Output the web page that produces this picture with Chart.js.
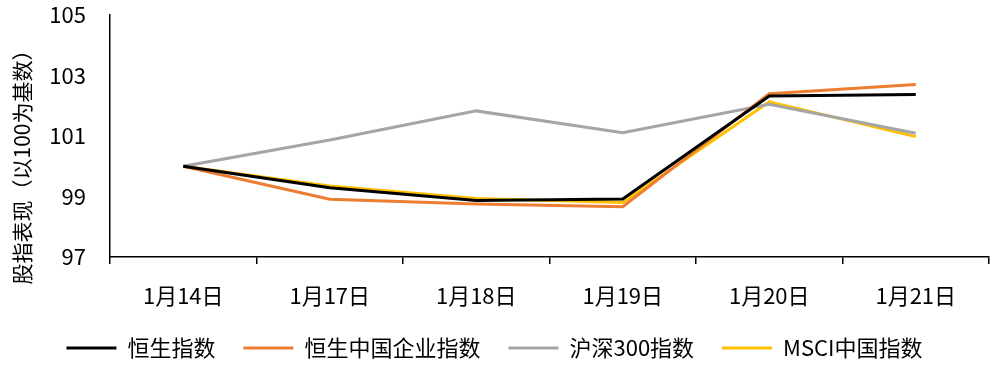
<!DOCTYPE html>
<html>
<head>
<meta charset="utf-8">
<script src="https://cdn.jsdelivr.net/npm/chart.js@4"></script>
<style>
html,body{margin:0;padding:0;background:#fff;}
#wrap{width:999px;height:369px;}
</style>
</head>
<body>
<div id="wrap"><canvas id="c" width="999" height="369"></canvas></div>
<script>
const categories = ['1月14日','1月17日','1月18日','1月19日','1月20日','1月21日'];
const hsi   = [100, 99.29, 98.87, 98.92, 102.32, 102.37];
const hscei = [100, 98.91, 98.75, 98.66, 102.40, 102.70];
const csi300= [100, 100.87, 101.83, 101.11, 102.05, 101.09];
const msci  = [100, 99.35, 98.93, 98.80, 102.13, 100.98];
const seriesNames = ['恒生指数','恒生中国企业指数','沪深300指数','MSCI中国指数'];
const yTicks = [97, 99, 101, 103, 105];
const yTitle = '股指表现（以100为基数）';

const FONT = '"Noto Sans CJK SC", "Microsoft YaHei", sans-serif';

const titlePlugin = {
  id: 'ytitle',
  afterDraw(chart) {
    const ctx = chart.ctx;
    const area = chart.chartArea;
    ctx.save();
    ctx.translate(22, (area.top + area.bottom) / 2 + 26);
    ctx.rotate(-Math.PI / 2);
    ctx.font = '21px ' + FONT;
    ctx.fillStyle = '#000';
    ctx.textAlign = 'center';
    ctx.textBaseline = 'middle';
    ctx.fillText(yTitle, 0, 0);
    ctx.restore();
  }
};

function ds(label, data, color) {
  return {label, data, borderColor: color, backgroundColor: color, borderWidth: 3,
          pointRadius: 0, pointHoverRadius: 0, tension: 0, fill: false};
}

new Chart(document.getElementById('c'), {
  type: 'line',
  data: {
    labels: categories,
    datasets: [
      ds(seriesNames[0], hsi, '#000000'),
      ds(seriesNames[1], hscei, '#ED7D31'),
      ds(seriesNames[2], csi300, '#A5A5A5'),
      ds(seriesNames[3], msci, '#FFC000')
    ]
  },
  options: {
    responsive: false,
    animation: false,
    devicePixelRatio: 1,
    layout: {padding: {left: 0, right: 10, top: 15, bottom: 0}},
    plugins: {
      tooltip: {enabled: false},
      legend: {
        position: 'bottom',
        labels: {
          usePointStyle: true,
          pointStyle: 'line',
          pointStyleWidth: 50,
          boxHeight: 22,
          padding: 28,
          color: '#000',
          font: {family: FONT, size: 22}
        }
      }
    },
    scales: {
      x: {
        offset: true,
        afterFit(s) { s.height = 52; },
        border: {display: true, color: '#000', width: 1.5},
        grid: {offset: true, drawOnChartArea: false, drawTicks: true, tickLength: 7, color: '#000', lineWidth: 1.5},
        ticks: {color: '#000', padding: 18, font: {family: FONT, size: 22}, maxRotation: 0}
      },
      y: {
        min: 97, max: 105,
        afterFit(s) { s.width = 110; },
        afterBuildTicks(s) { s.ticks = yTicks.map(v => ({value: v})); },
        border: {display: true, color: '#000', width: 1.5},
        grid: {drawOnChartArea: false, drawTicks: true, tickLength: 24, tickColor: 'rgba(0,0,0,0)'},
        ticks: {color: '#000', padding: 0, font: {family: FONT, size: 22}}
      }
    }
  },
  plugins: [titlePlugin]
});
</script>
</body>
</html>
